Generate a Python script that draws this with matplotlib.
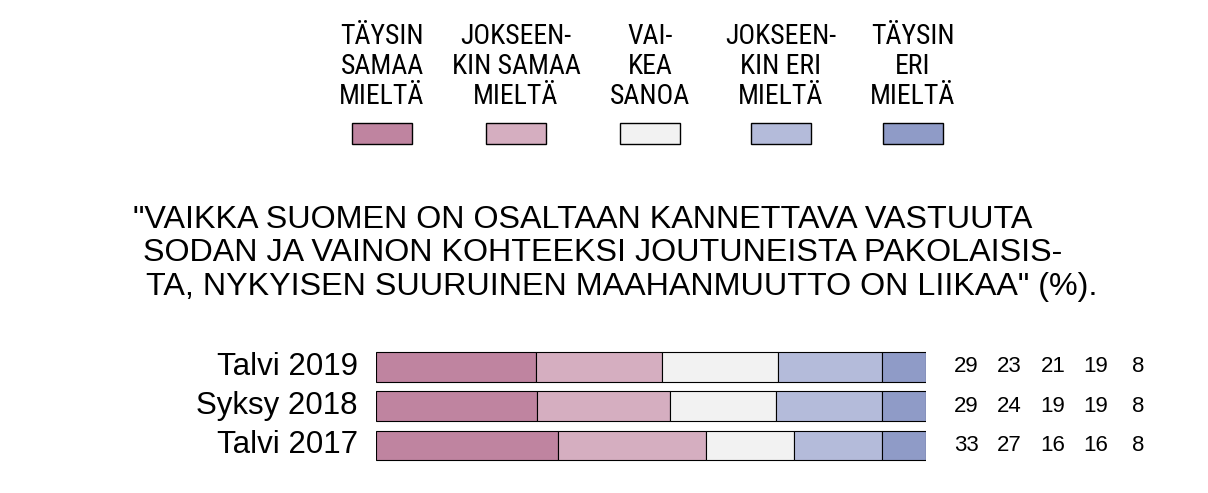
import matplotlib
matplotlib.use('Agg')
import matplotlib.pyplot as plt
from matplotlib.patches import Rectangle
import numpy as np

# data
rows = ['Talvi 2019', 'Syksy 2018', 'Talvi 2017']
taysin_samaa = [29, 29, 33]
jokseenkin_samaa = [23, 24, 27]
vaikea_sanoa = [21, 19, 16]
jokseenkin_eri = [19, 19, 16]
taysin_eri = [8, 8, 8]

legend_labels = ['TÄYSIN\nSAMAA\nMIELTÄ', 'JOKSEEN-\nKIN SAMAA\nMIELTÄ', 'VAI-\nKEA\nSANOA',
                 'JOKSEEN-\nKIN ERI\nMIELTÄ', 'TÄYSIN\nERI\nMIELTÄ']
colors = ['#bf84a0', '#d5aec0', '#f2f2f2', '#b4bbda', '#8f9bc7']
title_lines = ['"VAIKKA SUOMEN ON OSALTAAN KANNETTAVA VASTUUTA',
               'SODAN JA VAINON KOHTEEKSI JOUTUNEISTA PAKOLAISIS-',
               'TA, NYKYISEN SUURUINEN MAAHANMUUTTO ON LIIKAA" (%).']

series = [taysin_samaa, jokseenkin_samaa, vaikea_sanoa, jokseenkin_eri, taysin_eri]

W, H = 1208, 493
fig = plt.figure(figsize=(W / 100, H / 100), dpi=100)

narrow = ['Roboto Condensed', 'Liberation Sans', 'DejaVu Sans']
reg = ['Liberation Sans', 'DejaVu Sans']

# overlay axes in pixel coords for legend + title
ov = fig.add_axes([0, 0, 1, 1])
ov.set_xlim(0, W)
ov.set_ylim(H, 0)
ov.axis('off')

leg_x = [382, 516, 650, 781, 913]
for x, lab, c in zip(leg_x, legend_labels, colors):
    for k, line in enumerate(lab.split('\n')):
        ov.text(x, 44 + 30 * k, line, ha='center', va='baseline', fontsize=20, family=narrow)
    ov.add_patch(Rectangle((x - 30, 123), 60, 21, facecolor=c, edgecolor='black', lw=1))

title_x = [133, 143, 146]
title_y = [228, 261, 295]
for x, y, t in zip(title_x, title_y, title_lines):
    ov.text(x, y, t, ha='left', va='baseline', fontsize=23.2, family=reg)

# bar axes
ax = fig.add_axes([376 / W, 1 - 465 / H, 550 / W, 120 / H])
y = np.arange(len(rows))
vals_arr = np.array(series, dtype=float)
shares = vals_arr / vals_arr.sum(axis=0) * 100  # rows drawn to full width
left = np.zeros(len(rows))
for sh, c in zip(shares, colors):
    ax.barh(y, sh, left=left, height=0.76, color=c, edgecolor='black', lw=0.8)
    left += sh
ax.set_xlim(0, 100)
ax.set_ylim(2.497, -0.56)
ax.axis('off')

for i, r in enumerate(rows):
    ax.text(-3.3, i, r, ha='right', va='center', fontsize=22.5, family=reg)

num_x = [107.3, 115.1, 123.1, 130.9, 138.5]
for i in range(len(rows)):
    for j, vals in enumerate(series):
        ax.text(num_x[j], i, str(vals[i]), ha='center', va='center', fontsize=16,
                family=reg, clip_on=False)

fig.savefig('out.png', dpi=100)
